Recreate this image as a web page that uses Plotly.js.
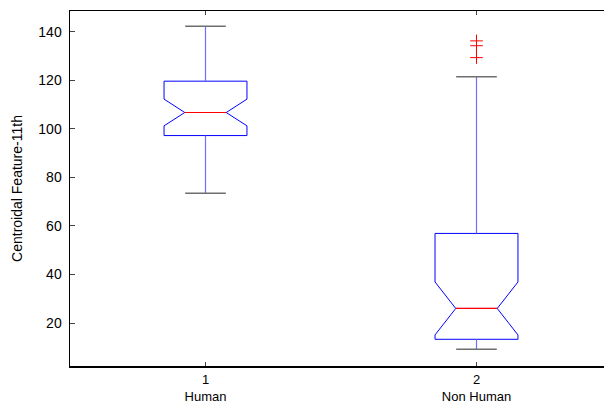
<!DOCTYPE html>
<html>
<head>
<meta charset="utf-8">
<script src="https://cdn.plot.ly/plotly-3.0.1.min.js"></script>
<style>html,body{margin:0;padding:0;background:#fff;}#chart{width:604px;height:403px;}</style>
</head>
<body>
<div id="chart"></div>
<script>
// ---- data ----
var positions = [1, 2];
var tickLabels = ['1<br>Human', '2<br>Non Human'];
var q1Values = [97.2, 13.3];
var medianValues = [106.7, 26.0];
var q3Values = [119.6, 56.9];
var notchSpans = [5.5, 10.9];
var lowerWhiskers = [73.4, 9.2];
var upperWhiskers = [142.2, 121.4];
var outlierPositions = [2, 2, 2];
var outlierValues = [136.2, 134.2, 129.3];

// ---- style constants ----
var boxWidth = 0.306;
var notchFrac = 0.25;
var capHalf = 0.075;
var font = 'Arial, "Liberation Sans", sans-serif';

var traces = [];

// whiskers (blue)
var wx = [], wy = [];
positions.forEach(function (p, i) {
  wx.push(p, p, null, p, p, null);
  wy.push(q3Values[i], upperWhiskers[i], null, q1Values[i], lowerWhiskers[i], null);
});
traces.push({
  type: 'scatter', mode: 'lines', x: wx, y: wy,
  line: {color: 'rgb(110,110,255)', width: 1.2},
  hoverinfo: 'skip', showlegend: false
});

// caps (gray)
var cx = [], cy = [];
positions.forEach(function (p, i) {
  cx.push(p - capHalf, p + capHalf, null, p - capHalf, p + capHalf, null);
  cy.push(upperWhiskers[i], upperWhiskers[i], null, lowerWhiskers[i], lowerWhiskers[i], null);
});
traces.push({
  type: 'scatter', mode: 'lines', x: cx, y: cy,
  line: {color: 'rgb(110,110,110)', width: 1.5},
  hoverinfo: 'skip', showlegend: false
});

// notched boxes
traces.push({
  type: 'box', x: positions,
  q1: q1Values, median: medianValues, q3: q3Values,
  lowerfence: q1Values, upperfence: q3Values,
  notchspan: notchSpans, notched: true, notchwidth: notchFrac,
  width: boxWidth, whiskerwidth: 0, boxpoints: false,
  line: {color: 'rgb(0,0,255)', width: 1},
  fillcolor: 'rgba(0,0,0,0)',
  hoverinfo: 'skip', showlegend: false
});

// medians (red)
var mx = [], my = [];
var mh = boxWidth / 2 * (1 - 2 * notchFrac);
positions.forEach(function (p, i) {
  mx.push(p - mh, p + mh, null);
  my.push(medianValues[i], medianValues[i], null);
});
traces.push({
  type: 'scatter', mode: 'lines', x: mx, y: my,
  line: {color: 'rgb(255,0,0)', width: 1.2},
  hoverinfo: 'skip', showlegend: false
});

// outliers
traces.push({
  type: 'scatter', mode: 'markers', x: outlierPositions, y: outlierValues,
  marker: {symbol: 'cross-thin', size: 9, line: {color: 'rgb(255,0,0)', width: 1}},
  hoverinfo: 'skip', showlegend: false
});

var layout = {
  width: 604, height: 403,
  margin: {l: 70, r: 0, t: 11, b: 37},
  paper_bgcolor: '#fff', plot_bgcolor: '#fff',
  font: {family: font, size: 14, color: '#000'},
  showlegend: false,
  xaxis: {
    range: [0.5, 2.4705], tickvals: positions, ticktext: tickLabels,
    ticks: 'inside', ticklen: 4, tickcolor: '#444', tickwidth: 1,
    showline: true, linecolor: '#000', linewidth: 1.5, mirror: 'ticks',
    showgrid: false, zeroline: false, tickfont: {size: 13},
    ticklabelstandoff: 1
  },
  yaxis: {
    range: [2.3, 148.5], tickvals: [20, 40, 60, 80, 100, 120, 140],
    ticks: 'inside', ticklen: 5, tickcolor: '#444', tickwidth: 1,
    showline: true, linecolor: '#000', linewidth: 1.5, mirror: false,
    showgrid: false, zeroline: false, tickfont: {size: 14},
    ticklabelstandoff: 4,
    title: {text: 'Centroidal Feature-11th', font: {size: 14}, standoff: 12}
  }
};

Plotly.newPlot('chart', traces, layout, {staticPlot: true, displayModeBar: false});
</script>
</body>
</html>
